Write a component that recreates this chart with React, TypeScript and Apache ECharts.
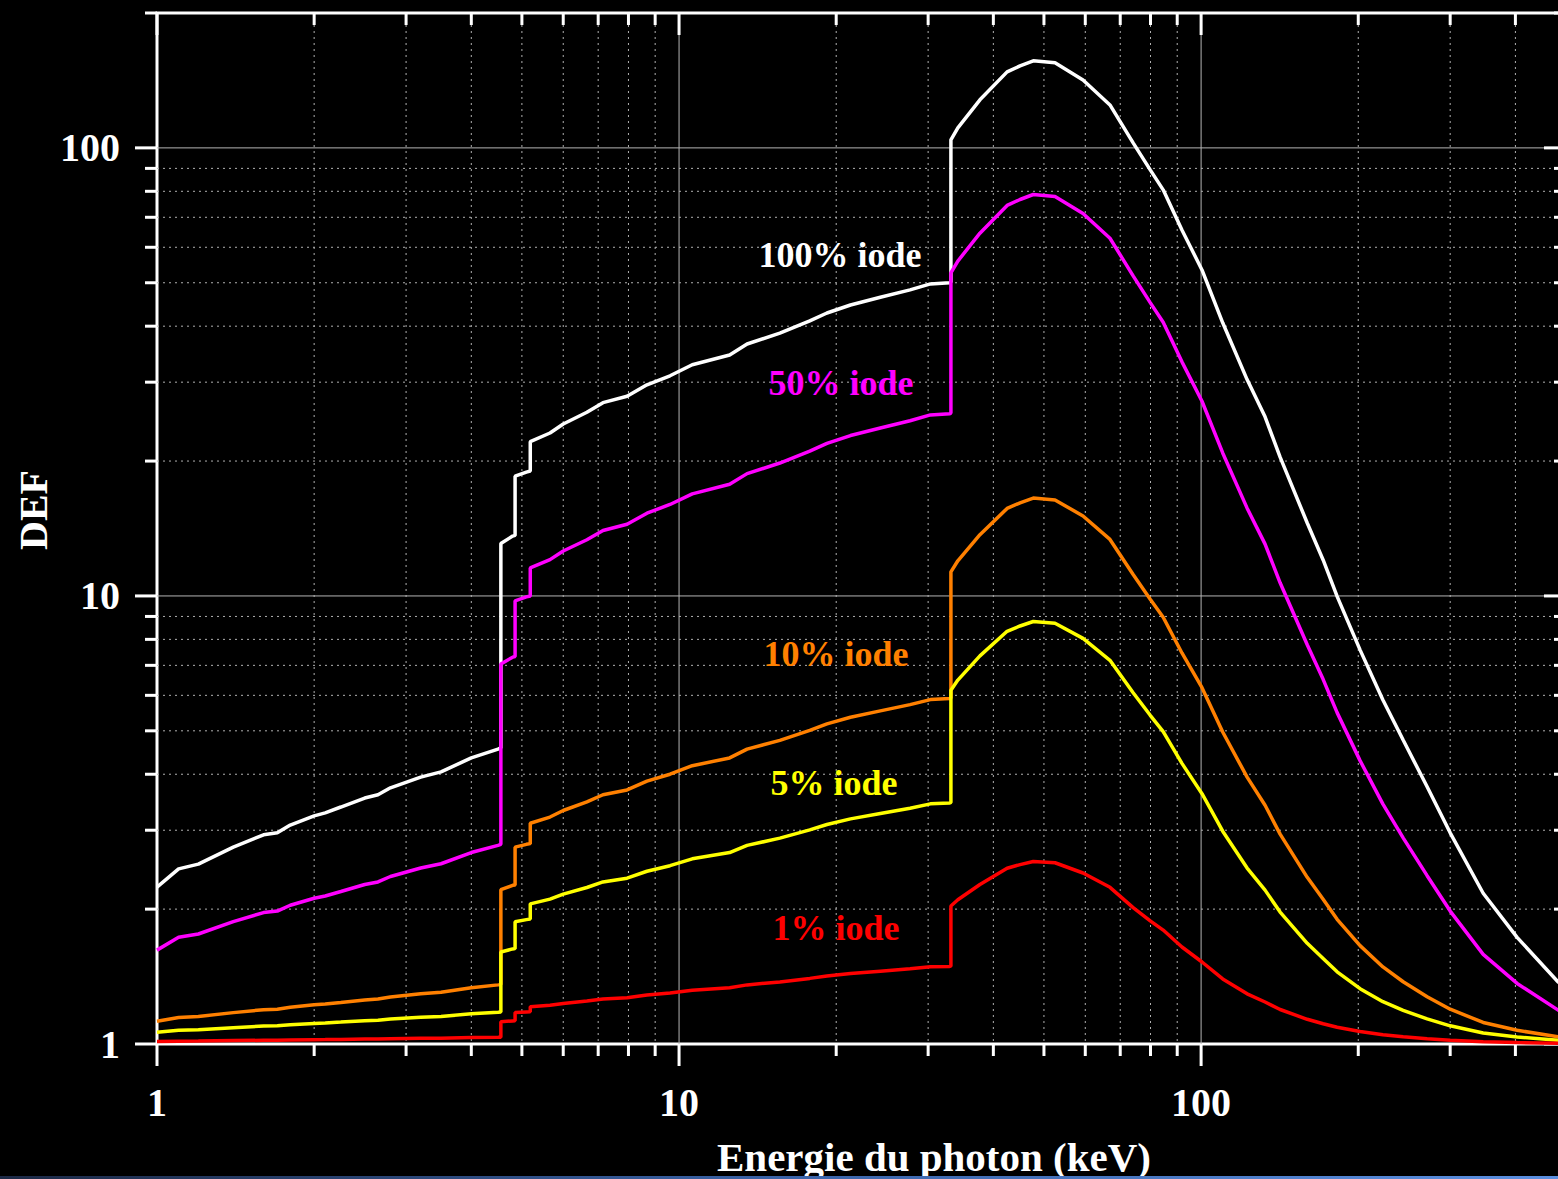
import React, { useEffect, useRef } from "react";
import * as echarts from "echarts";

// Photon energy (keV); repeated values mark the iodine L3, L2, L1 and K absorption edges
const energyKeV = [1.0, 1.1, 1.2, 1.4, 1.6, 1.7, 1.8, 2.0, 2.1, 2.25, 2.5, 2.65, 2.8, 3.2, 3.5, 4.0, 4.5, 4.557, 4.557, 4.8, 4.852, 4.852, 5.1, 5.188, 5.188, 5.66, 6.0, 6.66, 7.15, 7.95, 8.68, 9.61, 10.6, 12.5, 13.5, 15.6, 17.8, 19.2, 21.3, 24.3, 27.7, 30.3, 33.0, 33.17, 33.17, 34.2, 37.7, 42.5, 45.0, 47.7, 52.5, 59.4, 66.9, 74.1, 79.9, 84.6, 91.9, 100.4, 110, 122.5, 132.6, 141.7, 159.7, 171.3, 182.2, 201.6, 223, 243.8, 271, 300, 347, 403, 483, 500];

const def100 = [2.24, 2.46, 2.52, 2.75, 2.93, 2.96, 3.08, 3.23, 3.28, 3.38, 3.54, 3.6, 3.73, 3.94, 4.05, 4.35, 4.55, 4.58, 13.1, 13.6, 13.65, 18.5, 18.9, 19.0, 22.1, 23.1, 24.2, 25.7, 27.0, 27.9, 29.6, 31.0, 32.8, 34.5, 36.5, 38.6, 41.1, 42.8, 44.6, 46.4, 48.2, 49.7, 50.0, 50.2, 104.2, 110.8, 128, 147.8, 152.4, 156.4, 154.8, 141.8, 124.7, 102.6, 89.3, 80.6, 65.6, 53.4, 40.7, 30.4, 25.1, 20.4, 14.55, 12.03, 9.98, 7.58, 5.86, 4.77, 3.75, 2.96, 2.17, 1.73, 1.375, 1.34];

const def50 = [1.62, 1.73, 1.76, 1.875, 1.965, 1.98, 2.04, 2.115, 2.14, 2.19, 2.27, 2.3, 2.365, 2.47, 2.525, 2.675, 2.775, 2.79, 7.05, 7.3, 7.325, 9.75, 9.95, 10.0, 11.55, 12.05, 12.6, 13.35, 14.0, 14.45, 15.3, 16.0, 16.9, 17.75, 18.75, 19.8, 21.05, 21.9, 22.8, 23.7, 24.6, 25.35, 25.5, 25.6, 52.6, 55.9, 64.5, 74.4, 76.7, 78.7, 77.9, 71.4, 62.85, 51.8, 45.15, 40.8, 33.3, 27.2, 20.85, 15.7, 13.05, 10.7, 7.78, 6.515, 5.49, 4.29, 3.43, 2.885, 2.375, 1.98, 1.585, 1.365, 1.19, 1.17];

const def10 = [1.124, 1.146, 1.152, 1.175, 1.193, 1.196, 1.208, 1.223, 1.228, 1.238, 1.254, 1.26, 1.273, 1.294, 1.305, 1.335, 1.355, 1.358, 2.21, 2.26, 2.265, 2.75, 2.79, 2.8, 3.11, 3.21, 3.32, 3.47, 3.6, 3.69, 3.86, 4.0, 4.18, 4.35, 4.55, 4.76, 5.01, 5.18, 5.36, 5.54, 5.72, 5.87, 5.9, 5.92, 11.32, 11.98, 13.7, 15.68, 16.14, 16.54, 16.38, 15.08, 13.37, 11.16, 9.83, 8.96, 7.46, 6.24, 4.97, 3.94, 3.41, 2.94, 2.355, 2.103, 1.898, 1.658, 1.486, 1.377, 1.275, 1.196, 1.117, 1.073, 1.0375, 1.034];

const def5 = [1.062, 1.073, 1.076, 1.0875, 1.0965, 1.098, 1.104, 1.1115, 1.114, 1.119, 1.127, 1.13, 1.1365, 1.147, 1.1525, 1.1675, 1.1775, 1.179, 1.605, 1.63, 1.6325, 1.875, 1.895, 1.9, 2.055, 2.105, 2.16, 2.235, 2.3, 2.345, 2.43, 2.5, 2.59, 2.675, 2.775, 2.88, 3.005, 3.09, 3.18, 3.27, 3.36, 3.435, 3.45, 3.46, 6.16, 6.49, 7.35, 8.34, 8.57, 8.77, 8.69, 8.04, 7.185, 6.08, 5.415, 4.98, 4.23, 3.62, 2.985, 2.47, 2.205, 1.97, 1.678, 1.552, 1.449, 1.329, 1.243, 1.189, 1.1375, 1.098, 1.0585, 1.0365, 1.019, 1.017];

const def1 = [1.0124, 1.0146, 1.0152, 1.0175, 1.0193, 1.0196, 1.0208, 1.0223, 1.0228, 1.0238, 1.0254, 1.026, 1.0273, 1.0294, 1.0305, 1.0335, 1.0355, 1.0358, 1.121, 1.126, 1.1265, 1.175, 1.179, 1.18, 1.211, 1.221, 1.232, 1.247, 1.26, 1.269, 1.286, 1.3, 1.318, 1.335, 1.355, 1.376, 1.401, 1.418, 1.436, 1.454, 1.472, 1.487, 1.49, 1.492, 2.032, 2.098, 2.27, 2.468, 2.514, 2.554, 2.538, 2.408, 2.237, 2.016, 1.883, 1.796, 1.646, 1.524, 1.397, 1.294, 1.241, 1.194, 1.1355, 1.11, 1.09, 1.066, 1.049, 1.038, 1.0275, 1.0196, 1.0117, 1.0073, 1.0038, 1.0034];

const seriesNames = ["100% iode", "50% iode", "10% iode", "5% iode", "1% iode"];
const seriesColors = ["#ffffff", "#ff00ff", "#ff8000", "#ffff00", "#ff0000"];
const seriesValues = [def100, def50, def10, def5, def1];

const xTickValues = [1, 2, 3, 4, 5, 6, 7, 8, 9, 10, 20, 30, 40, 50, 60, 70, 80, 90, 100, 200, 300, 400, 500];
const yTickValues = [1, 2, 3, 4, 5, 6, 7, 8, 9, 10, 20, 30, 40, 50, 60, 70, 80, 90, 100, 200];
const xTickLabels = ["1", "10", "100"];
const yTickLabels = ["1", "10", "100"];

const xTitle = "Energie du photon (keV)";
const yTitle = "DEF";

const FONT = '"Liberation Serif", "Times New Roman", serif';

function isDecade(v: number) {
  const l = Math.log10(v);
  return Math.abs(l - Math.round(l)) < 1e-6;
}

export default function App() {
  const ref = useRef<HTMLDivElement>(null);

  useEffect(() => {
    if (!ref.current) return;
    const chart = echarts.init(ref.current, null, { renderer: "svg" });

    const labelStyle = {
      color: "#ffffff",
      fontSize: 40,
      fontWeight: "bold" as const,
      fontFamily: FONT,
    };

    const renderXTick = (params: any, api: any) => {
      const v = api.value(0);
      const p = api.coord([v, 1]);
      const cs = params.coordSys;
      const major = isDecade(v);
      const len = major ? 22 : 12;
      const top = cs.y;
      const bottom = cs.y + cs.height;
      const children: any[] = [];
      if (v > 1 && v < 500) {
        children.push({
          type: "line",
          shape: { x1: p[0], y1: top, x2: p[0], y2: bottom },
          style: { stroke: major ? "#b4b4b4" : "#b0b0b0", lineWidth: 1, lineDash: major ? null : [2, 4] },
        });
      }
      children.push({
        type: "line",
        shape: { x1: p[0], y1: bottom, x2: p[0], y2: bottom + len },
        style: { stroke: "#ffffff", lineWidth: 3 },
      });
      children.push({
        type: "line",
        shape: { x1: p[0], y1: top, x2: p[0], y2: top + len },
        style: { stroke: "#ffffff", lineWidth: 3 },
      });
      return { type: "group", children };
    };

    const renderYTick = (params: any, api: any) => {
      const v = api.value(1);
      const p = api.coord([1, v]);
      const cs = params.coordSys;
      const major = isDecade(v);
      const len = major ? 22 : 12;
      const left = cs.x;
      const right = cs.x + cs.width;
      const children: any[] = [];
      if (v > 1 && v < 200) {
        children.push({
          type: "line",
          shape: { x1: left, y1: p[1], x2: right, y2: p[1] },
          style: { stroke: major ? "#b4b4b4" : "#b0b0b0", lineWidth: 1, lineDash: major ? null : [2, 4] },
        });
      }
      children.push({
        type: "line",
        shape: { x1: left - len, y1: p[1], x2: left, y2: p[1] },
        style: { stroke: "#ffffff", lineWidth: 3 },
      });
      children.push({
        type: "line",
        shape: { x1: right - len, y1: p[1], x2: right, y2: p[1] },
        style: { stroke: "#ffffff", lineWidth: 3 },
      });
      return { type: "group", children };
    };

    const lineSeries = seriesValues.map((vals, i) => ({
      type: "line",
      name: seriesNames[i],
      data: energyKeV.map((e, j) => [e, vals[j]]),
      showSymbol: false,
      symbol: "none",
      lineStyle: { color: seriesColors[i], width: 3.5 },
      itemStyle: { color: seriesColors[i] },
      z: 3 + i,
      clip: true,
    }));

    const annotationPos = [
      [840, 255],
      [841, 383],
      [836, 654],
      [834, 783],
      [836, 928],
    ];

    chart.setOption({
      animation: false,
      backgroundColor: "#000000",
      grid: {
        left: 157,
        top: 13,
        width: 1409,
        height: 1031,
        show: true,
        borderColor: "#ffffff",
        borderWidth: 3,
        backgroundColor: "transparent",
      },
      xAxis: {
        type: "log",
        logBase: 10,
        min: 1,
        max: 500,
        axisLine: { show: false },
        axisTick: { show: false },
        minorTick: { show: false },
        splitLine: { show: false },
        axisLabel: {
          ...labelStyle,
          margin: 38,
          showMaxLabel: false,
          formatter: (v: number) => {
            const s = String(Math.round(v));
            return xTickLabels.includes(s) && isDecade(v) ? s : "";
          },
        },
      },
      yAxis: {
        type: "log",
        logBase: 10,
        min: 1,
        max: 200,
        axisLine: { show: false },
        axisTick: { show: false },
        minorTick: { show: false },
        splitLine: { show: false },
        axisLabel: {
          ...labelStyle,
          margin: 37,
          showMaxLabel: false,
          formatter: (v: number) => {
            const s = String(Math.round(v));
            return yTickLabels.includes(s) && isDecade(v) ? s : "";
          },
        },
      },
      series: [
        {
          type: "custom",
          data: xTickValues.map((v) => [v, 1]),
          renderItem: renderXTick,
          clip: false,
          silent: true,
          z: 1,
        },
        {
          type: "custom",
          data: yTickValues.map((v) => [1, v]),
          renderItem: renderYTick,
          clip: false,
          silent: true,
          z: 1,
        },
        ...lineSeries,
      ],
      graphic: [
        ...seriesNames.map((n, i) => ({
          type: "text",
          x: annotationPos[i][0],
          y: annotationPos[i][1],
          z: 20,
          style: {
            text: n,
            fill: seriesColors[i],
            fontSize: 36,
            fontWeight: "bold",
            fontFamily: FONT,
            align: "center",
            verticalAlign: "middle",
          },
        })),
        {
          type: "text",
          x: 934,
          y: 1157,
          z: 20,
          style: {
            text: xTitle,
            fill: "#ffffff",
            fontSize: 41,
            fontWeight: "bold",
            fontFamily: FONT,
            align: "center",
            verticalAlign: "middle",
          },
        },
        {
          type: "text",
          x: 33,
          y: 510,
          rotation: Math.PI / 2,
          z: 20,
          style: {
            text: yTitle,
            fill: "#ffffff",
            fontSize: 40,
            fontWeight: "bold",
            fontFamily: FONT,
            align: "center",
            verticalAlign: "middle",
          },
        },
        {
          type: "rect",
          shape: { x: 0, y: 1176, width: 1558, height: 3 },
          z: 20,
          style: {
            fill: new echarts.graphic.LinearGradient(0, 0, 1, 0, [
              { offset: 0, color: "#1c2945" },
              { offset: 0.5, color: "#3a63a8" },
              { offset: 1, color: "#5b8fe0" },
            ]),
          },
        },
      ],
    });

    return () => {
      chart.dispose();
    };
  }, []);

  return (
    <div
      style={{
        position: "fixed",
        left: 0,
        top: 0,
        width: 1558,
        height: 1179,
        overflow: "hidden",
        background: "#000",
      }}
    >
      <div ref={ref} style={{ width: 1600, height: 1179 }} />
    </div>
  );
}
